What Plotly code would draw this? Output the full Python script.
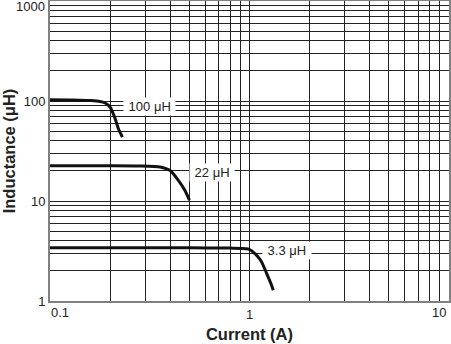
import math
import plotly.graph_objects as go

# ---- data ----
cur_100 = [0.1, 0.13, 0.16, 0.178, 0.188, 0.2, 0.2055, 0.212, 0.22, 0.2305]
ind_100 = [103, 102.5, 101, 99, 96, 87, 78, 67, 53, 43.6]

cur_22 = [0.1, 0.2, 0.283, 0.356, 0.4, 0.44, 0.474, 0.5]
ind_22 = [22.5, 22.5, 22.4, 21.9, 20.2, 16.1, 12.8, 10.2]

cur_33 = [0.1, 0.5, 0.8, 0.97, 1.02, 1.085, 1.15, 1.22, 1.29, 1.315]
ind_33 = [3.4, 3.4, 3.38, 3.33, 3.2, 2.86, 2.46, 1.88, 1.44, 1.28]

curve_labels = ["100 μH", "22 μH", "3.3 μH"]
label_x = [0.3143, 0.652, 1.55]
label_y = [88.5, 19.1, 3.21]

x_tickvals = [0.1, 1, 10]
x_ticktext = ["0.1", "1", "10"]
y_tickvals = [1, 10, 100, 1000]
y_ticktext = ["1", "10", "100", "1000"]

FONT = "Liberation Sans, Arial, Helvetica, sans-serif"
TXT = "#222222"

fig = go.Figure()
for xs, ys in [(cur_100, ind_100), (cur_22, ind_22), (cur_33, ind_33)]:
    fig.add_trace(go.Scatter(x=xs, y=ys, mode="lines",
                             line=dict(color="#111111", width=3, shape="spline", smoothing=0.6),
                             showlegend=False, hoverinfo="skip"))

for t, lx, ly in zip(curve_labels, label_x, label_y):
    fig.add_annotation(x=math.log10(lx), y=math.log10(ly), xref="x", yref="y",
                       text="\u00a0" + t + "\u00a0", showarrow=False,
                       bgcolor="white", borderpad=1,
                       font=dict(family=FONT, size=13, color=TXT))

# end tick labels placed inside the edges as in the reference
fig.add_annotation(x=0, y=math.log10(y_tickvals[-1]), xref="paper", yref="y",
                   xanchor="right", yanchor="middle", xshift=-3, yshift=-5,
                   text=y_ticktext[-1], showarrow=False,
                   font=dict(family=FONT, size=13, color=TXT))
fig.add_annotation(x=0, y=0, xref="paper", yref="paper", xanchor="left", yanchor="top",
                   xshift=-1, yshift=-2, text=x_ticktext[0], showarrow=False,
                   font=dict(family=FONT, size=13, color=TXT))
fig.add_annotation(x=1, y=0, xref="paper", yref="paper", xanchor="right", yanchor="top",
                   xshift=-1, yshift=-2, text=x_ticktext[-1], showarrow=False,
                   font=dict(family=FONT, size=13, color=TXT))

grid = dict(showgrid=True, gridcolor="#222222", gridwidth=1)
minor = dict(showgrid=True, gridcolor="#222222", gridwidth=1, dtick="D1", ticks="")

fig.update_xaxes(type="log", range=[-1, 1], tickvals=x_tickvals,
                 ticktext=[""] + x_ticktext[1:-1] + [""],
                 ticks="", showline=True, linecolor="#808080", linewidth=2,
                 mirror=True, zeroline=False, minor=minor,
                 tickfont=dict(family=FONT, size=13, color=TXT),
                 title=dict(text="<b>Current (A)</b>", standoff=8,
                            font=dict(family=FONT, size=16.5, color=TXT)),
                 **grid)
fig.update_yaxes(type="log", range=[0, 3], tickvals=y_tickvals,
                 ticktext=y_ticktext[:-1] + [""],
                 ticks="", showline=True, linecolor="#808080", linewidth=2,
                 mirror=True, zeroline=False, minor=minor,
                 tickfont=dict(family=FONT, size=13, color=TXT),
                 title=dict(text="<b>Inductance (μH)</b>", standoff=8,
                            font=dict(family=FONT, size=16.5, color=TXT)),
                 **grid)

fig.update_layout(width=451, height=344, margin=dict(l=50, r=2, t=1, b=43, autoexpand=False),
                  plot_bgcolor="white", paper_bgcolor="white")

fig.write_html("out.html", config={"displayModeBar": False})
